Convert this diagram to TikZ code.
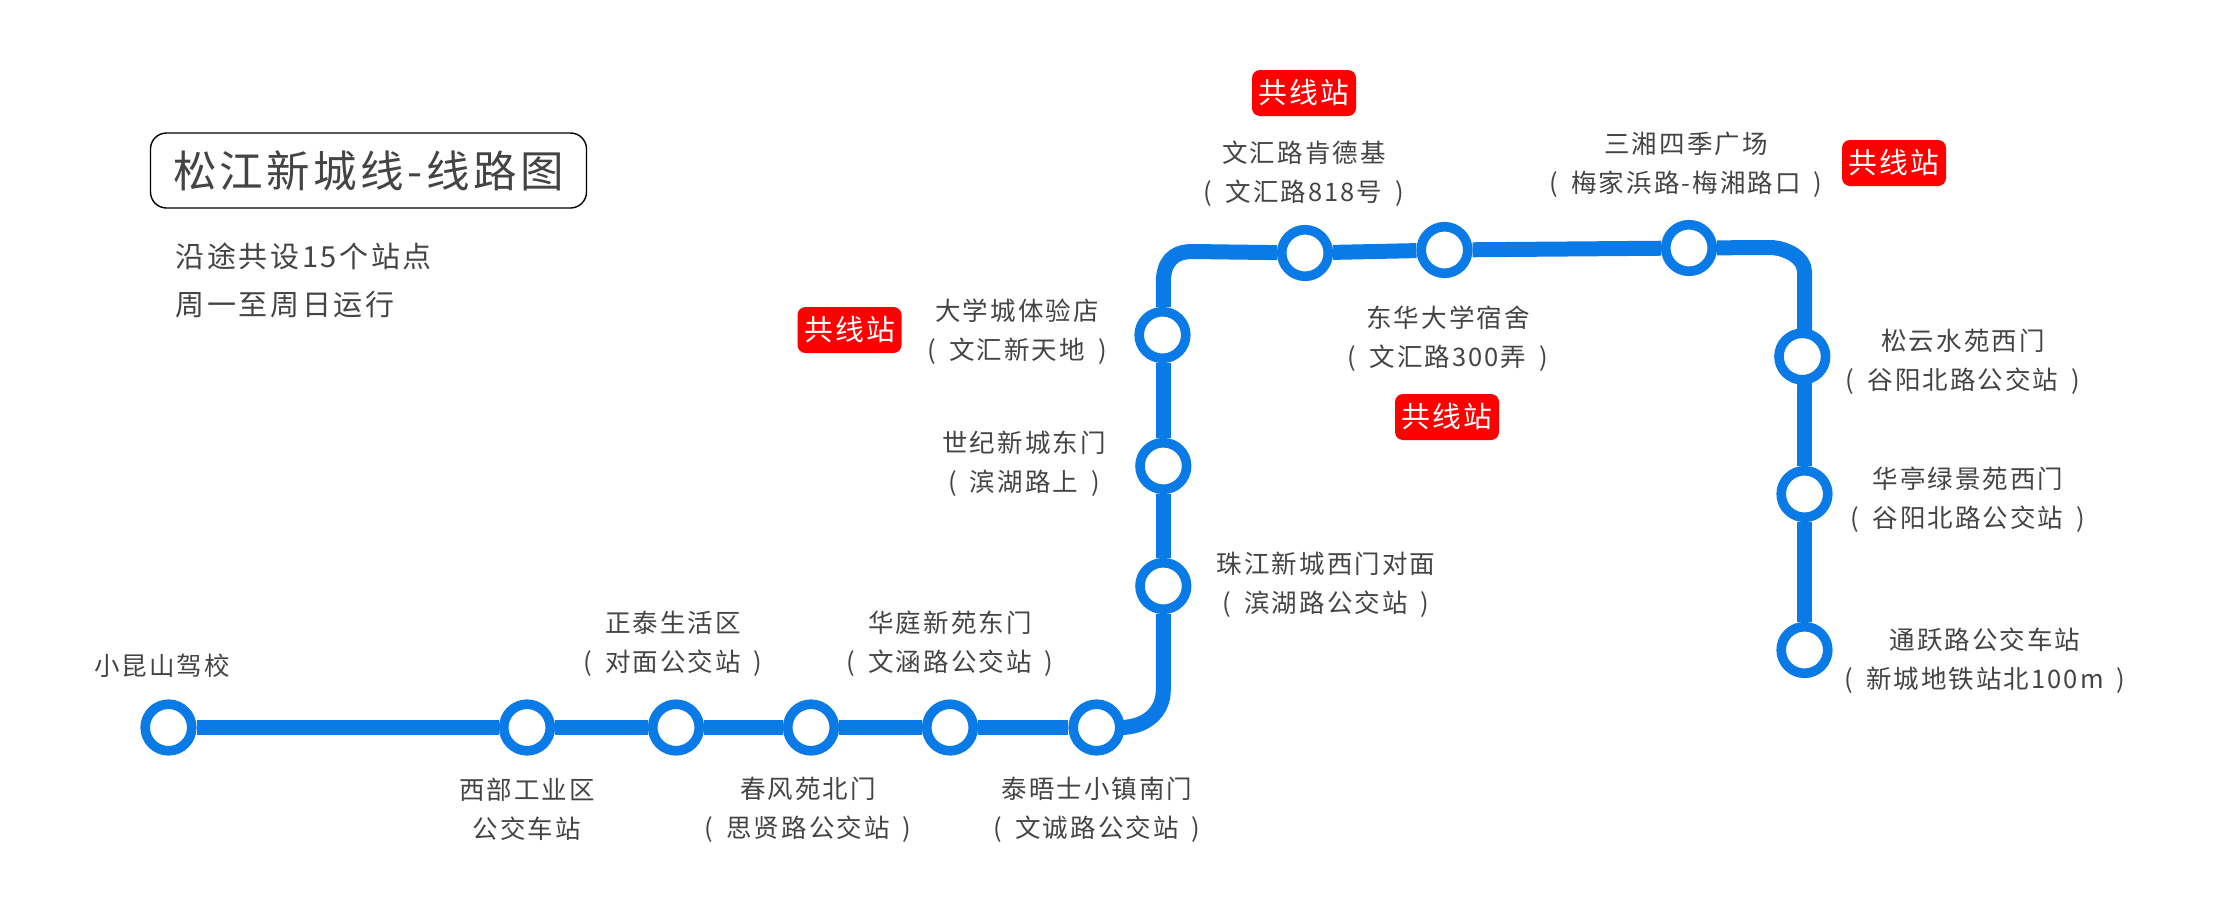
\documentclass[tikz,border=0pt]{standalone}
\usepackage{fontspec}
\setmainfont{Noto Sans CJK SC}
\newfontfamily\cjklab[LetterSpace=8,WordSpace=1.7]{Noto Sans CJK SC}
\newfontfamily\cjkinfo[LetterSpace=9]{Noto Sans CJK SC}
\definecolor{linecol}{HTML}{0A7AE6}
\definecolor{txt}{HTML}{444444}
\definecolor{badgered}{HTML}{FF0000}
\tikzset{
  stn/.style={circle,draw=linecol,fill=white,line width=9.6pt,minimum size=46.6pt,inner sep=0pt},
  rail/.style={draw=linecol,line width=15pt},
  lab/.style={text=txt,align=center,inner sep=0pt,yshift=-1.5pt,font=\cjklab\fontsize{25.5}{39}\selectfont},
  info/.style={text=txt,anchor=west,inner sep=0pt,font=\cjkinfo\fontsize{29}{30}\selectfont},
  badge/.style={fill=badgered,text=white,rounded corners=8pt,minimum width=104pt,minimum height=46pt,inner sep=0pt,font=\cjklab\fontsize{28.8}{30}\selectfont},
  titlebox/.style={draw=black,line width=1.4pt,rounded corners=16pt,minimum width=436pt,minimum height=75pt,inner sep=0pt,text=txt,font=\cjklab\fontsize{43.5}{46}\selectfont}
}
\begin{document}
\begin{tikzpicture}[x=1pt,y=-1pt]
\useasboundingbox (0,0) rectangle (2220,908);
% corners
\coordinate (c1a) at (1120,727.5);
\coordinate (c1b) at (1163.3,690);
\coordinate (c2a) at (1163.3,283);
\coordinate (c2b) at (1192,251.5);
\coordinate (c3a) at (1772,247.5);
\coordinate (c3b) at (1804.5,272);
\coordinate (c3c) at (1804.5,338);
\coordinate (c3d) at (1804.5,375);
% stations
\node[stn] (s1) at (168.5,727.5) {};
\node[stn] (s2) at (527,727.5) {};
\node[stn] (s3) at (676,727.5) {};
\node[stn] (s4) at (811,727.5) {};
\node[stn] (s5) at (950,727.5) {};
\node[stn] (s6) at (1096.5,727.5) {};
\node[stn] (s7) at (1163.3,586) {};
\node[stn] (s8) at (1163.3,466) {};
\node[stn] (s9) at (1162.5,335) {};
\node[stn] (s10) at (1305,253) {};
\node[stn] (s11) at (1444.5,250) {};
\node[stn] (s12) at (1689,248) {};
\node[stn] (s13) at (1802.3,356.5) {};
\node[stn] (s14) at (1804.5,494) {};
\node[stn] (s15) at (1804.5,650) {};
% line
\path[rail] (s1)--(s2);
\path[rail] (s2)--(s3);
\path[rail] (s3)--(s4);
\path[rail] (s4)--(s5);
\path[rail] (s5)--(s6);
\path[rail] (s6)--(c1a) .. controls (1146,727.5) and (1163.3,712) .. (c1b)--(s7);
\path[rail] (s7)--(s8);
\path[rail] (s8)--(c2a |- s9.south);
\path[rail] (c2a |- s9.north)--(c2a) .. controls (1163.3,262) and (1173,251.7) .. (c2b)--(s10);
\path[rail] (s10)--(s11);
\path[rail] (s11)--(s12);
\path[rail] (s12)--(c3a) .. controls (1786,248.5) and (1804.5,257) .. (c3b)--(c3c);
\path[rail] (c3d)--(s14);
\path[rail] (s14)--(s15);
% labels
\node[lab] (l1) at (162,664) {小昆山驾校};
\node[lab] (l2) at (527,808) {西部工业区\\公交车站};
\node[lab] (l3) at (673,642) {正泰生活区\\( 对面公交站 )};
\node[lab] (l4) at (808,808) {春风苑北门\\( 思贤路公交站 )};
\node[lab] (l5) at (950,642) {华庭新苑东门\\( 文涵路公交站 )};
\node[lab] (l6) at (1097,808) {泰晤士小镇南门\\( 文诚路公交站 )};
\node[lab] (l7) at (1326,583) {珠江新城西门对面\\( 滨湖路公交站 )};
\node[lab] (l8) at (1024,462) {世纪新城东门\\( 滨湖路上 )};
\node[lab] (l9) at (1017,330) {大学城体验店\\( 文汇新天地 )};
\node[lab] (l10) at (1304,172) {文汇路肯德基\\( 文汇路818号 )};
\node[lab] (l11) at (1448,337) {东华大学宿舍\\( 文汇路300弄 )};
\node[lab] (l12) at (1686,163) {三湘四季广场\\( 梅家浜路-梅湘路口 )};
\node[lab] (l13) at (1963,360) {松云水苑西门\\( 谷阳北路公交站 )};
\node[lab] (l14) at (1968,498) {华亭绿景苑西门\\( 谷阳北路公交站 )};
\node[lab] (l15) at (1985,659) {通跃路公交车站\\( 新城地铁站北100m )};
% badges
\node[badge] (b1) at (1304,93) {共线站};
\node[badge] (b2) at (1894,163) {共线站};
\node[badge] (b3) at (1447,417) {共线站};
\node[badge] (b4) at (849.5,330) {共线站};
% title
\node[titlebox] (title) at (368.5,170.5) {松江新城线-线路图};
\node[info] (i1) at (175.5,256) {沿途共设15个站点};
\node[info] (i2) at (175.5,305) {周一至周日运行};
\end{tikzpicture}
\end{document}
